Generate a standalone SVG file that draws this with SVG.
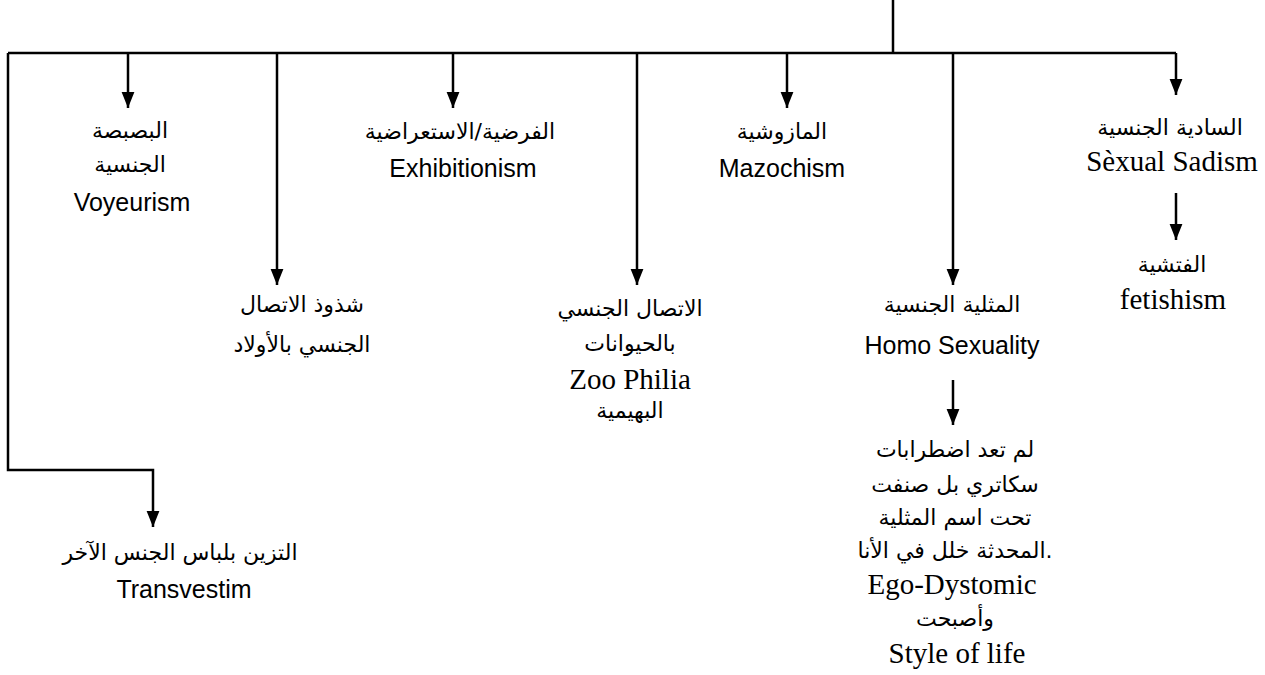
<svg xmlns="http://www.w3.org/2000/svg" width="1265" height="675" viewBox="0 0 1265 675">
<style>
.ln{fill:none;stroke:#000;stroke-width:2.5}
.ar{font-family:"DejaVu Sans","Noto Sans",sans-serif;font-size:22px;text-anchor:middle;fill:#000}
.en{font-family:"Liberation Sans",Arial,sans-serif;font-size:25px;text-anchor:middle;fill:#000}
.se{font-family:"Liberation Serif","Times New Roman",serif;font-size:29px;text-anchor:middle;fill:#000}
</style>
<defs>
<marker id="arr" markerUnits="userSpaceOnUse" markerWidth="16" markerHeight="20" viewBox="0 0 20 16" refX="20" refY="8" orient="auto">
<path d="M0,0 L20,8 L0,16 Z" fill="#000"/>
</marker>
</defs>
<g id="connectors">
<path class="ln" d="M893,0 V53"/>
<path class="ln" d="M8,53 H1176"/>
<path class="ln" d="M8,53 V470 H153 V527" marker-end="url(#arr)"/>
<path class="ln" d="M128,53 V108" marker-end="url(#arr)"/>
<path class="ln" d="M277,53 V285" marker-end="url(#arr)"/>
<path class="ln" d="M453,53 V108" marker-end="url(#arr)"/>
<path class="ln" d="M637,53 V285" marker-end="url(#arr)"/>
<path class="ln" d="M787,53 V108" marker-end="url(#arr)"/>
<path class="ln" d="M953,53 V285" marker-end="url(#arr)"/>
<path class="ln" d="M1176,53 V95" marker-end="url(#arr)"/>
<path class="ln" d="M1176,193 V240" marker-end="url(#arr)"/>
<path class="ln" d="M953,380 V425" marker-end="url(#arr)"/>
</g>
<g id="voyeurism">
<text class="ar" x="130" y="138">البصبصة</text>
<text class="ar" x="130" y="172">الجنسية</text>
<text class="en" x="132" y="211">Voyeurism</text>
</g>
<g id="pedophilia">
<text class="ar" x="302" y="312">شذوذ الاتصال</text>
<text class="ar" x="302" y="352">الجنسي بالأولاد</text>
</g>
<g id="exhibitionism">
<text class="ar" x="460" y="139">الفرضية/الاستعراضية</text>
<text class="en" x="463" y="177">Exhibitionism</text>
</g>
<g id="zoophilia">
<text class="ar" x="630" y="316">الاتصال الجنسي</text>
<text class="ar" x="630" y="351">بالحيوانات</text>
<text class="se" x="630" y="389">Zoo Philia</text>
<text class="ar" x="630" y="418">البهيمية</text>
</g>
<g id="mazochism">
<text class="ar" x="782" y="139">المازوشية</text>
<text class="en" x="782" y="177">Mazochism</text>
</g>
<g id="homosexuality">
<text class="ar" x="952" y="312">المثلية الجنسية</text>
<text class="en" x="952" y="354">Homo Sexuality</text>
</g>
<g id="homo-note">
<text class="ar" x="955" y="457">لم تعد اضطرابات</text>
<text class="ar" x="955" y="492">سكاتري بل صنفت</text>
<text class="ar" x="955" y="525">تحت اسم المثلية</text>
<text class="ar" x="955" y="558">المحدثة خلل في الأنا.</text>
<text class="se" x="952" y="594">Ego-Dystomic</text>
<text class="ar" x="955" y="626">وأصبحت</text>
<text class="se" x="957" y="663">Style of life</text>
</g>
<g id="sadism">
<text class="ar" x="1170" y="135">السادية الجنسية</text>
<text class="se" x="1172" y="171">Sèxual Sadism</text>
</g>
<g id="fetishism">
<text class="ar" x="1172" y="272">الفتشية</text>
<text class="se" x="1173" y="309">fetishism</text>
</g>
<g id="transvestim">
<text class="ar" x="180" y="560">التزين بلباس الجنس الآخر</text>
<text class="en" x="184" y="598">Transvestim</text>
</g>
</svg>
